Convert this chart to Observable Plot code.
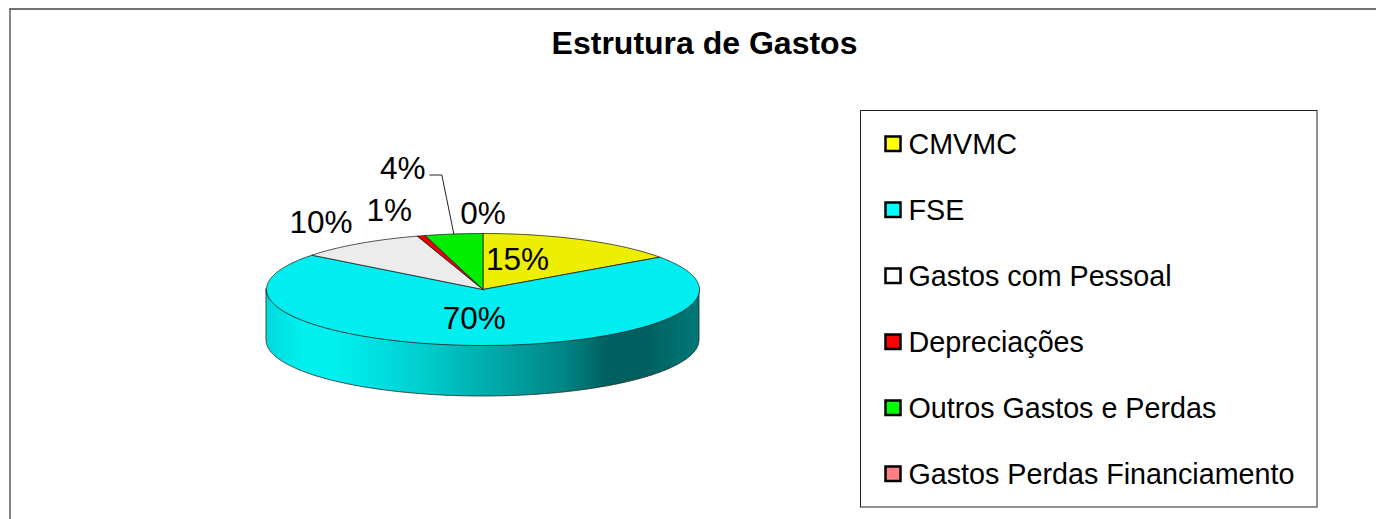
<!DOCTYPE html>
<html><head><meta charset="utf-8">
<script src="https://cdn.jsdelivr.net/npm/d3@7"></script>
<script src="https://cdn.jsdelivr.net/npm/@observablehq/plot@0.6"></script>
<style>html,body{margin:0;padding:0;background:#fff}svg{display:block}</style>
</head><body><div id="chart"></div>
<script>
const title = "Estrutura de Gastos";
const categories = ["CMVMC","FSE","Gastos com Pessoal","Depreciações","Outros Gastos e Perdas","Gastos Perdas Financiamento"];
const shares = [15.2,70.3,9.6,0.6,4.3,0.0];
const legendColors = ["#FFFF00","#00FFFF","#FFFFFF","#FF0000","#00FF00","#FF8080"];
const topColors = ["#EEEE00","#00EEF0","#ECECEC","#EE0000","#00EE00","#EE7777"];
const labelDx = [-65,-4,-38,-32,-51,0];
const labelDy = [20,-27,-21,-25,-65,-20];

const W=1376,H=519,cx=482.5,cy=289,rx=216.5,ry=56,depth=51;
const px=a=>cx+rx*Math.sin(a), py=a=>cy-ry*Math.cos(a);
const arcs=d3.pie().sort(null)(shares);
const slices=categories.map((name,i)=>({name,value:shares[i],i,a0:arcs[i].startAngle,a1:arcs[i].endAngle,mid:(arcs[i].startAngle+arcs[i].endAngle)/2}));
const steps=(a0,a1)=>{const n=Math.max(1,Math.ceil(Math.abs(a1-a0)/0.01));return d3.range(n+1).map(k=>a0+(a1-a0)*k/n)};
const wedgePts=slices.filter(s=>s.value>0).flatMap(s=>[
  {name:s.name,x:cx,y:cy,c:topColors[s.i]},
  ...steps(s.a0,s.a1).map(a=>({name:s.name,x:px(a),y:py(a),c:topColors[s.i]})),
  {name:s.name,x:cx,y:cy,c:topColors[s.i]}
]);
const sidePts=steps(Math.PI/2,Math.PI*1.5).map(a=>({x:px(a),y1:py(a),y2:py(a)+depth})).sort((p,q)=>p.x-q.x);
const green=slices[4];
const gx=px(green.mid),gy=py(green.mid);
const leader=[{x:gx,y:gy},{x:gx-12,y:gy-59},{x:gx-24,y:gy-59}];
const gradientStops=[[0,"#00DADC"],[.085,"#00F0F0"],[.16,"#00F0F0"],[.37,"#00CCCC"],[.52,"#00AAAA"],[.68,"#008888"],[.79,"#005F5F"],[.88,"#006060"],[1,"#007878"]];
const gradient=()=>{const ns="http://www.w3.org/2000/svg";const d=document.createElementNS(ns,"defs");
  const g=document.createElementNS(ns,"linearGradient");g.setAttribute("id","side");
  for(const [o,c] of gradientStops){const s=document.createElementNS(ns,"stop");s.setAttribute("offset",o);s.setAttribute("stop-color",c);g.appendChild(s)}
  d.appendChild(g);return d};
const ly=i=>144+i*66;
const ink="#222";
const plot=Plot.plot({
  width:W,height:H,margin:0,
  x:{axis:null,domain:[0,W],range:[0,W]},
  y:{axis:null,domain:[0,H],range:[0,H]},
  style:{background:"#fff",fontFamily:"'Liberation Sans',Arial,sans-serif"},
  marks:[
    gradient,
    Plot.ruleY([8.5],{x1:9.5,x2:W,stroke:"#444",strokeWidth:1.3}),
    Plot.ruleX([9.5],{y1:8.5,y2:H,stroke:"#444",strokeWidth:1.3}),
    Plot.text([title],{x:704,y:43,text:d=>d,fontSize:32,fontWeight:"bold",fill:"#000"}),
    Plot.rect([0],{x1:860.5,x2:1317,y1:110.5,y2:507,fill:"#fff",stroke:ink,strokeWidth:1}),
    Plot.rect(slices,{x1:885.5,x2:900.5,y1:s=>ly(s.i)-7.5,y2:s=>ly(s.i)+7,fill:s=>legendColors[s.i],stroke:"#000",strokeWidth:2.5}),
    Plot.text(slices,{x:908,y:s=>ly(s.i),text:"name",textAnchor:"start",fontSize:28.7,fill:"#000"}),
    Plot.areaY(sidePts,{x:"x",y1:"y1",y2:"y2",fill:"url(#side)",stroke:ink,strokeWidth:0.8}),
    Plot.line(wedgePts,{x:"x",y:"y",z:"name",fill:"c",stroke:ink,strokeWidth:0.8,strokeLinejoin:"round"}),
    Plot.line(leader,{x:"x",y:"y",stroke:ink,strokeWidth:1}),
    ...slices.map(s=>Plot.text([s],{x:px(s.mid),y:py(s.mid),dx:labelDx[s.i],dy:labelDy[s.i],text:d=>d3.format(".0f")(d.value)+"%",fontSize:31.5,fill:"#000"}))
  ]
});
document.getElementById("chart").appendChild(plot);
</script></body></html>
